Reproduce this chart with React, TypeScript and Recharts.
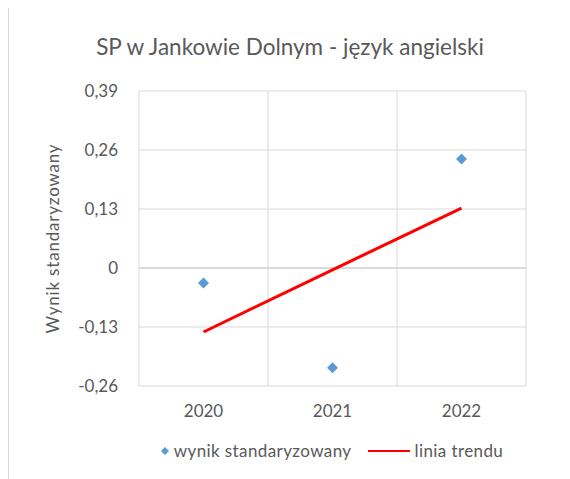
import { ComposedChart, Scatter, Line, XAxis, YAxis, CartesianGrid, ReferenceLine, Legend } from 'recharts';

const years = [2020, 2021, 2022];
const scores = [-0.033, -0.22, 0.24];
const trend = [-0.141, -0.004, 0.132];
const yTicks = [-0.26, -0.13, 0, 0.13, 0.26, 0.39];
const cellEdges = [2019.5, 2020.5, 2021.5, 2022.5];

const data = years.map((year, i) => ({ year, score: scores[i], trend: trend[i] }));

const textColor = '#595959';
const fontFamily = 'Lato, "Open Sans", sans-serif';

const fmt = (v: number) => String(v).replace('.', ',');

const Diamond = (props: any) => {
  const { cx, cy, fill } = props;
  return <path d={`M${cx} ${cy - 5.5} L${cx + 5.5} ${cy} L${cx} ${cy + 5.5} L${cx - 5.5} ${cy} Z`} fill={fill} />;
};

function LegendBox(props: any) {
  const items = props.payload || [];
  return (
    <div style={{ display: 'flex', justifyContent: 'center', alignItems: 'center', gap: 16, fontFamily, fontSize: 17, color: textColor, letterSpacing: 0.4 }}>
      {items.map((p: any) => (
        <div key={p.value} style={{ display: 'flex', alignItems: 'center', gap: 5 }}>
          {p.type === 'diamond' ? (
            <svg width={8} height={8}><path d="M4 0 L8 4 L4 8 L0 4 Z" fill={p.color} /></svg>
          ) : (
            <svg width={42} height={4}><line x1={0} y1={2} x2={42} y2={2} stroke={p.color} strokeWidth={2} /></svg>
          )}
          <span>{p.value}</span>
        </div>
      ))}
    </div>
  );
}

export default function App() {
  return (
    <div style={{ position: 'relative', width: 562, height: 471, borderLeft: '1px solid #d9d9d9', boxSizing: 'border-box' }}>
      <div style={{ position: 'absolute', top: 25, left: 0, width: 562, textAlign: 'center', fontFamily, fontSize: 22.5, color: textColor }}>
        SP w Jankowie Dolnym - język angielski
      </div>
      <ComposedChart width={561} height={471} data={data} margin={{ top: 83, right: 44, bottom: 42, left: 0 }}>
        <CartesianGrid vertical={false} stroke="#d9d9d9" strokeWidth={1} />
        {cellEdges.map((x) => (
          <ReferenceLine key={x} x={x} stroke="#d9d9d9" strokeWidth={1} />
        ))}
        <ReferenceLine y={0} stroke="#c8c8c8" strokeWidth={1} />
        <XAxis
          type="number"
          dataKey="year"
          domain={[2019.5, 2022.5]}
          ticks={years}
          axisLine={false}
          tickLine={false}
          tickMargin={13}
          tick={{ fill: textColor, fontSize: 17, fontFamily }}
        />
        <YAxis
          type="number"
          domain={[-0.26, 0.39]}
          ticks={yTicks}
          tickFormatter={fmt}
          axisLine={false}
          tickLine={false}
          tickMargin={15}
          width={130}
          tick={{ fill: textColor, fontSize: 17, fontFamily }}
          label={{ value: 'Wynik standaryzowany', angle: -90, position: 'insideLeft', offset: 44, style: { textAnchor: 'middle', fill: textColor, fontSize: 17, fontFamily, letterSpacing: 0.8 } }}
        />
        <Scatter dataKey="score" name="wynik standaryzowany" fill="#5b9bd5" shape={Diamond} legendType="diamond" isAnimationActive={false} />
        <Line dataKey="trend" name="linia trendu" stroke="#ff0000" strokeWidth={3} dot={false} legendType="plainline" isAnimationActive={false} />
        <Legend verticalAlign="bottom" content={LegendBox} itemSorter="dataKey" wrapperStyle={{ bottom: 18, left: 129, width: 388 }} />
      </ComposedChart>
    </div>
  );
}
